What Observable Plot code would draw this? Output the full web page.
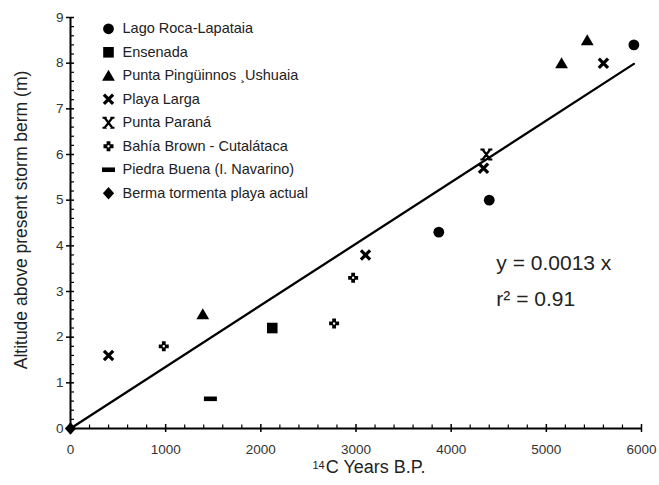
<!DOCTYPE html>
<html>
<head>
<meta charset="utf-8">
<script src="https://cdn.jsdelivr.net/npm/d3@7"></script>
<script src="https://cdn.jsdelivr.net/npm/@observablehq/plot@0.6"></script>
<style>
  html, body { margin: 0; padding: 0; background: #fff; }
  #chart { position: relative; width: 659px; height: 485px; overflow: hidden; }
</style>
</head>
<body>
<div id="chart"></div>
<script>
// ---- Data ----
const seriesNames = [
  "Lago Roca-Lapataia",
  "Ensenada",
  "Punta Pingüinnos ¸Ushuaia",
  "Playa Larga",
  "Punta Paraná",
  "Bahía Brown - Cutalátaca",
  "Piedra Buena (I. Navarino)",
  "Berma tormenta playa actual"
];
// sample age (14C years B.P.), altitude (m), site index into seriesNames
const years    = [3870, 4400, 5920, 2120, 1390, 5160, 5430, 400, 3100, 4340, 5600, 4370, 980, 2770, 2970, 1470, 0];
const altitude = [4.3,  5.0,  8.4,  2.2,  2.5,  8.0,  8.5,  1.6, 3.8,  5.7,  8.0,  6.0,  1.8, 2.3,  3.3,  0.65, 0];
const site     = [0,    0,    0,    1,    2,    2,    2,    3,   3,    3,    3,    4,    5,   5,    5,    6,    7];
const xTicks = [0, 1000, 2000, 3000, 4000, 5000, 6000];
const xMinorTicks = d3.range(0, 6001, 200).filter(v => v % 1000 !== 0);
const yTicks = [0, 1, 2, 3, 4, 5, 6, 7, 8, 9];
const yMinorTicks = d3.range(0, 45).map(i => i / 5).filter(v => Math.abs(v - Math.round(v)) > 1e-9);
const eqLabels = ["y = 0.0013 x", "r\u00b2 = 0.91"];
const eqX = [4475, 4475];
const eqY = [3.62, 2.84];
const xLabelSup = "14";
const xLabelMain = "C Years B.P.";
const yLabel = "Altitude above present storm berm (m)";

// ---- Build table ----
const points = years.map((x, i) => ({x, y: altitude[i], s: site[i]}));
// least-squares regression through the origin
const slope = d3.sum(points, d => d.x * d.y) / d3.sum(points, d => d.x * d.x);
const fit = [0, d3.max(years)].map(x => ({x, y: slope * x}));

// ---- Custom symbols ----
const symbols = [
  {kind: "fill", sym: {draw(c) { c.moveTo(5.4, 0); c.arc(0, 0, 5.4, 0, 2 * Math.PI); }}},
  {kind: "fill", sym: {draw(c) { c.rect(-5.3, -5.3, 10.6, 10.6); }}},
  {kind: "fill", sym: {draw(c) { c.moveTo(0, -6); c.lineTo(6.4, 5); c.lineTo(-6.4, 5); c.closePath(); }}},
  {kind: "stroke", w: 3.2, sym: {draw(c) {
    c.moveTo(-4.6, -4.6); c.lineTo(4.6, 4.6); c.moveTo(4.6, -4.6); c.lineTo(-4.6, 4.6);
  }}},
  {kind: "stroke", w: 2.2, sym: {draw(c) {
    c.moveTo(-3.8, -5); c.lineTo(3.8, 5); c.moveTo(3.8, -5); c.lineTo(-3.8, 5);
    c.moveTo(-6, -5); c.lineTo(-1.8, -5); c.moveTo(1.8, -5); c.lineTo(6, -5);
    c.moveTo(-6, 5); c.lineTo(-1.8, 5); c.moveTo(1.8, 5); c.lineTo(6, 5);
  }}},
  {kind: "fill", sym: {draw(c) {
    const a = 1.9, L = 5;
    c.moveTo(-a, -L); c.lineTo(a, -L); c.lineTo(a, -a); c.lineTo(L, -a); c.lineTo(L, a);
    c.lineTo(a, a); c.lineTo(a, L); c.lineTo(-a, L); c.lineTo(-a, a); c.lineTo(-L, a);
    c.lineTo(-L, -a); c.lineTo(-a, -a); c.closePath();
    c.moveTo(1.2, 0); c.arc(0, 0, 1.2, 0, 2 * Math.PI, true);
  }}},
  {kind: "fill", sym: {draw(c) { c.rect(-6.5, -2.3, 13, 4.6); }}},
  {kind: "fill", sym: {draw(c) { c.moveTo(0, -6.2); c.lineTo(5.6, 0); c.lineTo(0, 6.2); c.lineTo(-5.6, 0); c.closePath(); }}}
];
function symStyle(i) {
  const s = symbols[i];
  return s.kind === "fill"
    ? {symbol: s.sym, fill: "black", stroke: "none"}
    : {symbol: s.sym, fill: "none", stroke: "black", strokeWidth: s.w};
}

// ---- Layout ----
const W = 659, H = 485, mt = 17, mb = 57, ml = 70, mr = 18;
const frameW = W - ml - mr, frameH = H - mt - mb;
const font = "'Liberation Sans', Arial, Helvetica, sans-serif";

const marks = [
  // axis lines
  Plot.ruleY([0], {stroke: "black", strokeWidth: 2}),
  Plot.ruleX([0], {stroke: "black", strokeWidth: 2}),
  // x ticks
  Plot.tickX(xTicks, {x: d => d, stroke: "black", strokeWidth: 1.5, insetTop: frameH - 4, insetBottom: -4}),
  Plot.tickX(xMinorTicks, {x: d => d, stroke: "black", strokeWidth: 1.2, insetTop: frameH - 3.5, insetBottom: 0}),
  // y ticks
  Plot.tickY(yTicks, {y: d => d, stroke: "black", strokeWidth: 1.5, insetLeft: -4, insetRight: frameW - 4}),
  Plot.tickY(yMinorTicks, {y: d => d, stroke: "black", strokeWidth: 1.2, insetLeft: 0, insetRight: frameW - 4}),
  // tick labels
  Plot.axisX({ticks: xTicks, tickSize: 0, tickPadding: 16, label: null, fontSize: 13.5, fill: "#333", tickFormat: d => String(d)}),
  Plot.axisY({ticks: yTicks, tickSize: 0, tickPadding: 7, label: null, fontSize: 13.5, fill: "#333", tickFormat: d => String(d)}),
  // regression line
  Plot.line(fit, {x: "x", y: "y", stroke: "black", strokeWidth: 2.3}),
  // equation
  Plot.text(eqLabels, {x: (d, i) => eqX[i], y: (d, i) => eqY[i], text: d => d, textAnchor: "start", lineAnchor: "middle", fontSize: 21, fill: "#222"})
];

// data points by site
seriesNames.forEach((name, i) => {
  marks.push(Plot.dot(points.filter(p => p.s === i), {x: "x", y: "y", ...symStyle(i)}));
});

// legend rows
seriesNames.forEach((name, i) => {
  const dy = 11.3 + i * 23.49;
  marks.push(Plot.dot([name], {frameAnchor: "top-left", dx: 38, dy, ...symStyle(i)}));
  marks.push(Plot.text([name], {frameAnchor: "top-left", dx: 52, dy, text: d => d, textAnchor: "start", lineAnchor: "middle", fontSize: 14.5, fill: "#222"}));
});

const svg = Plot.plot({
  width: W, height: H,
  marginTop: mt, marginBottom: mb, marginLeft: ml, marginRight: mr,
  style: {fontFamily: font, background: "#fff", overflow: "visible"},
  x: {domain: [0, 6000]},
  y: {domain: [0, 9]},
  marks
});

// axis titles
const s = d3.select(svg);
const xt = s.append("text")
  .attr("x", 369).attr("y", 473)
  .attr("text-anchor", "middle")
  .attr("font-family", font).attr("font-size", 18).attr("fill", "#222");
xt.append("tspan").attr("font-size", 11).attr("dy", -4.5).text(xLabelSup);
xt.append("tspan").attr("dy", 4.5).attr("dx", 1).text(xLabelMain);

s.append("text")
  .attr("transform", "translate(21,220) rotate(-90)")
  .attr("text-anchor", "middle").attr("dy", "0.35em")
  .attr("font-family", font).attr("font-size", 17.5).attr("fill", "#222")
  .text(yLabel);

document.getElementById("chart").appendChild(svg);
</script>
</body>
</html>
